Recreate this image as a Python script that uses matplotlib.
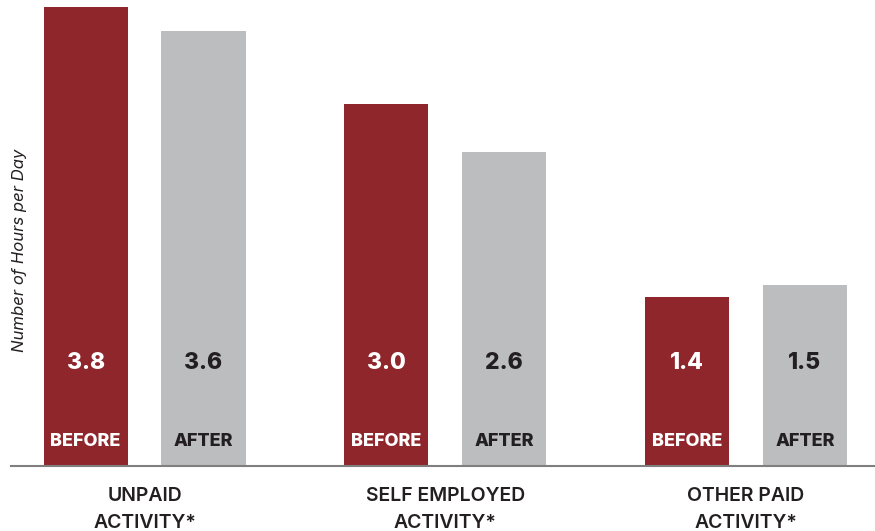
import matplotlib
matplotlib.use("Agg")
import matplotlib.pyplot as plt
import numpy as np

categories = ["UNPAID\nACTIVITY*", "SELF EMPLOYED\nACTIVITY*", "OTHER PAID\nACTIVITY*"]
before = [3.8, 3.0, 1.4]
after = [3.6, 2.6, 1.5]
series_names = ["BEFORE", "AFTER"]

RED = "#8F262B"
GRAY = "#BCBDBF"
TXT = "#231F20"

plt.rcParams['font.family'] = ['Inter', 'DejaVu Sans']

fig = plt.figure(figsize=(8.75, 5.31), dpi=100)
ax = fig.add_axes([11/875, 65/531, 864/875, 466/531])

x = np.arange(len(categories))
off = 0.196
w = 0.2795
ax.bar(x - off, before, width=w, color=RED)
ax.bar(x + off, after, width=w, color=GRAY)

ax.set_xlim(-0.4443, 2.4293)
ax.set_ylim(0, 3.858)

trans = ax.get_xaxis_transform()
for xs, vals, name, col in [(x - off, before, series_names[0], "white"),
                            (x + off, after, series_names[1], TXT)]:
    for xi, v in zip(xs, vals):
        ax.text(xi, 0.221, f"{v:.1f}", transform=trans, ha="center", va="center",
                fontsize=16.5, fontweight="heavy", color=col)
        ax.text(xi, 0.0536, name, transform=trans, ha="center", va="center",
                fontsize=13, fontweight="heavy", color=col)

for s in ["top", "right", "left"]:
    ax.spines[s].set_visible(False)
ax.spines["bottom"].set_color("#7F7F7F")
ax.spines["bottom"].set_linewidth(1.5)
ax.set_yticks([])
ax.set_xticks(x)
ax.set_xticklabels(categories, fontsize=14, color=TXT, linespacing=1.65, fontweight="semibold")
ax.tick_params(axis="x", length=0, pad=15)

fig.text(20/875, 1 - 250/531, "Number of Hours per Day", rotation=90, ha="center", va="center",
         fontsize=12, style="italic", color=TXT)

fig.savefig("out.png", dpi=100)
